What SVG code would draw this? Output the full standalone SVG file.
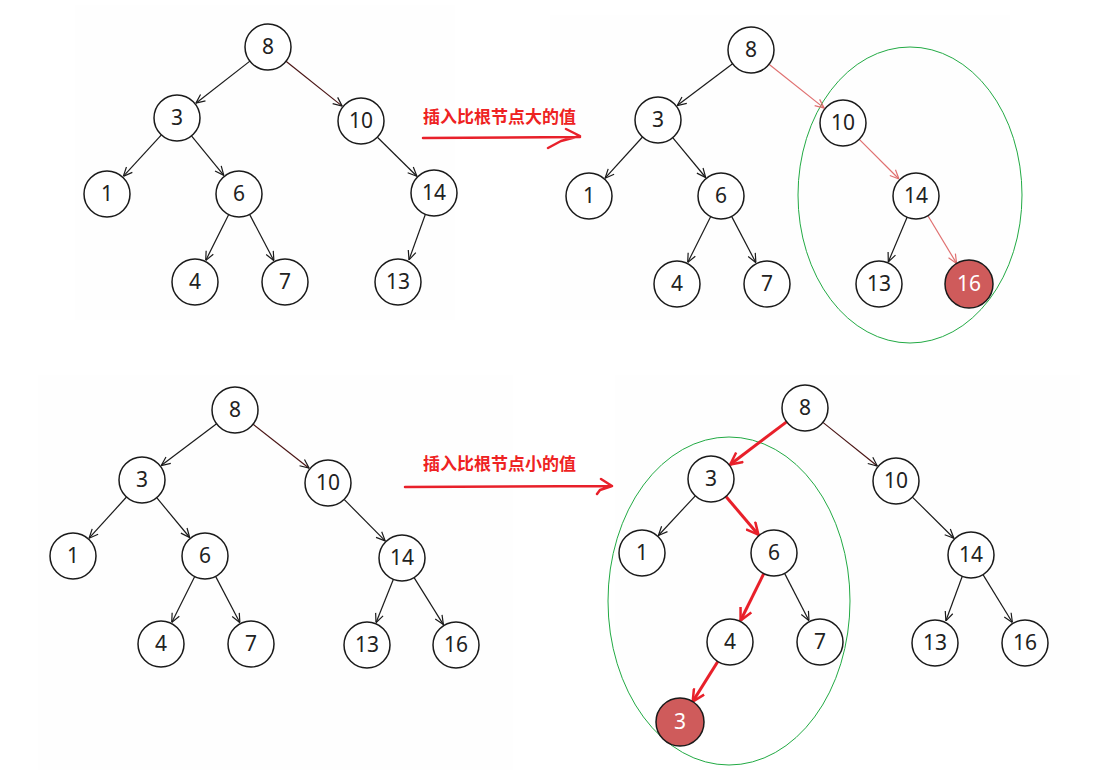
<svg xmlns="http://www.w3.org/2000/svg" width="1099" height="782" viewBox="0 0 1099 782">
<defs>
<style>
.n circle{fill:#fff;stroke:#1a1a1a;stroke-width:1.5}
.n text{font-family:"Noto Sans","DejaVu Sans",sans-serif;font-size:21px;fill:#222;text-anchor:middle}
.n.hl circle{fill:#cf5b5b}
.n.hl text{fill:#fff}
.e{stroke:#1a1a1a;stroke-width:1.2;fill:none;marker-end:url(#ab)}
.e.s{stroke:#e07070;marker-end:url(#as)}
.e.d{stroke:#4a1515}
.e.r{stroke:#e8202a;stroke-width:3;marker-end:url(#ar)}
.lab{font-family:"Noto Sans CJK SC",sans-serif;font-size:17px;font-weight:bold;fill:#ee2222}
.arr{stroke:#e8202a;stroke-width:2.5;fill:none;stroke-linecap:round;stroke-linejoin:round}
.ell{fill:none;stroke:#22aa44;stroke-width:1}
.bg{fill:#fefefe}
</style>
<marker id="ab" viewBox="0 0 10 10" refX="10" refY="5" markerWidth="10" markerHeight="10" markerUnits="userSpaceOnUse" orient="auto"><path d="M1,1 L10,5 L1,9" fill="none" stroke="#1a1a1a" stroke-width="1.2"/></marker>
<marker id="as" viewBox="0 0 10 10" refX="10" refY="5" markerWidth="10" markerHeight="10" markerUnits="userSpaceOnUse" orient="auto"><path d="M1,1 L10,5 L1,9" fill="none" stroke="#e07070" stroke-width="1.2"/></marker>
<marker id="ar" viewBox="0 0 14 14" refX="13" refY="7" markerWidth="14" markerHeight="14" markerUnits="userSpaceOnUse" orient="auto"><path d="M1,1 L13,7 L1,13" fill="none" stroke="#e8202a" stroke-width="2.5"/></marker>
</defs>
<rect width="1099" height="782" fill="#fff"/>
<rect class="bg" x="75" y="5" width="380" height="315"/>
<rect class="bg" x="550" y="15" width="460" height="305"/>
<rect class="bg" x="38" y="375" width="475" height="395"/>
<rect class="bg" x="615" y="375" width="465" height="305"/>

<g id="ellipses">
<ellipse class="ell" cx="910" cy="195" rx="112" ry="148"/>
<ellipse class="ell" cx="729" cy="601" rx="121" ry="164"/>
</g>

<g id="connectors">
<line class="e" x1="249.9" y1="61.1" x2="195.9" y2="103.2"/>
<line class="e d" x1="286" y1="61.3" x2="342.2" y2="106.1"/>
<line class="e" x1="161.4" y1="134.9" x2="123.3" y2="176.3"/>
<line class="e" x1="191.5" y1="135.8" x2="223.8" y2="175.4"/>
<line class="e" x1="377.4" y1="137.2" x2="416.9" y2="176.2"/>
<line class="e" x1="228.7" y1="214.6" x2="205.7" y2="260.5"/>
<line class="e" x1="249.6" y1="214.4" x2="273.9" y2="260.7"/>
<line class="e" x1="425.4" y1="214.3" x2="409" y2="259.8"/>

<line class="e" x1="732.6" y1="63.8" x2="677.2" y2="105.6"/>
<line class="e s" x1="769" y1="64.3" x2="824.2" y2="108.1"/>
<line class="e" x1="642.5" y1="137" x2="605.1" y2="178.2"/>
<line class="e" x1="672.7" y1="137.7" x2="705.7" y2="177.5"/>
<line class="e s" x1="859.3" y1="139.3" x2="899" y2="179"/>
<line class="e" x1="710.7" y1="216.6" x2="687.7" y2="262.5"/>
<line class="e" x1="731.6" y1="216.4" x2="755.9" y2="262.7"/>
<line class="e" x1="907.1" y1="217.2" x2="888.3" y2="261.9"/>
<line class="e s" x1="927.9" y1="215.7" x2="956.6" y2="263.4"/>

<line class="e" x1="216.6" y1="423.8" x2="161.2" y2="465.6"/>
<line class="e d" x1="253.1" y1="424.2" x2="309.1" y2="468.2"/>
<line class="e" x1="126.5" y1="497" x2="89.1" y2="538.2"/>
<line class="e" x1="156.7" y1="497.7" x2="189.7" y2="537.5"/>
<line class="e" x1="344.1" y1="499.4" x2="385.2" y2="540.9"/>
<line class="e" x1="194.7" y1="576.6" x2="171.7" y2="622.5"/>
<line class="e" x1="215.6" y1="576.4" x2="239.9" y2="622.7"/>
<line class="e" x1="393.4" y1="579.3" x2="376" y2="622.7"/>
<line class="e" x1="414.1" y1="577.6" x2="443.4" y2="624.6"/>

<line class="e r" x1="786.6" y1="421.9" x2="730.2" y2="464.5"/>
<line class="e d" x1="822.9" y1="422.4" x2="877.3" y2="466"/>
<line class="e" x1="695.3" y1="495.8" x2="658.4" y2="535.5"/>
<line class="e r" x1="725.9" y1="496.5" x2="758.4" y2="534.7"/>
<line class="e r" x1="763.8" y1="573.6" x2="740.6" y2="620.5"/>
<line class="e" x1="784.6" y1="573.4" x2="809" y2="620.7"/>
<line class="e" x1="912.4" y1="497.1" x2="953.9" y2="538.2"/>
<line class="e" x1="962.3" y1="576.3" x2="945.9" y2="620.8"/>
<line class="e" x1="983" y1="574.6" x2="1012.4" y2="622.5"/>
<line class="e r" x1="717.8" y1="661.5" x2="692.7" y2="701.6"/>
</g>

<g id="label-arrows">
<text class="lab" x="423" y="123">插入比根节点大的值</text>
<path class="arr" d="M423,138 L580,137 M566,129 L580,136 L561,141 L548,148"/>
<text class="lab" x="423" y="470">插入比根节点小的值</text>
<path class="arr" d="M405,487 L612,486 M601,479 L612,486 L600,490 L597,494"/>
</g>

<g id="t1-8" class="n"><circle cx="268" cy="47" r="23"/><text x="268" y="54">8</text></g>
<g id="t1-3" class="n"><circle cx="177" cy="118" r="23"/><text x="177" y="125">3</text></g>
<g id="t1-10" class="n"><circle cx="361" cy="121" r="23"/><text x="361" y="128">10</text></g>
<g id="t1-1" class="n"><circle cx="107" cy="194" r="23"/><text x="107" y="201">1</text></g>
<g id="t1-6" class="n"><circle cx="239" cy="194" r="23"/><text x="239" y="201">6</text></g>
<g id="t1-14" class="n"><circle cx="434" cy="193" r="23"/><text x="434" y="200">14</text></g>
<g id="t1-4" class="n"><circle cx="195" cy="282" r="23"/><text x="195" y="289">4</text></g>
<g id="t1-7" class="n"><circle cx="285" cy="282" r="23"/><text x="285" y="289">7</text></g>
<g id="t1-13" class="n"><circle cx="398" cy="282" r="23"/><text x="398" y="289">13</text></g>

<g id="t2-8" class="n"><circle cx="751" cy="50" r="23"/><text x="751" y="57">8</text></g>
<g id="t2-3" class="n"><circle cx="658" cy="120" r="23"/><text x="658" y="127">3</text></g>
<g id="t2-10" class="n"><circle cx="843" cy="123" r="23"/><text x="843" y="130">10</text></g>
<g id="t2-1" class="n"><circle cx="589" cy="196" r="23"/><text x="589" y="203">1</text></g>
<g id="t2-6" class="n"><circle cx="721" cy="196" r="23"/><text x="721" y="203">6</text></g>
<g id="t2-14" class="n"><circle cx="916" cy="196" r="23"/><text x="916" y="203">14</text></g>
<g id="t2-4" class="n"><circle cx="677" cy="284" r="23"/><text x="677" y="291">4</text></g>
<g id="t2-7" class="n"><circle cx="767" cy="284" r="23"/><text x="767" y="291">7</text></g>
<g id="t2-13" class="n"><circle cx="879" cy="284" r="23"/><text x="879" y="291">13</text></g>
<g id="t2-16" class="n hl"><circle cx="969" cy="284" r="24"/><text x="969" y="291">16</text></g>

<g id="t3-8" class="n"><circle cx="235" cy="410" r="23"/><text x="235" y="417">8</text></g>
<g id="t3-3" class="n"><circle cx="142" cy="480" r="23"/><text x="142" y="487">3</text></g>
<g id="t3-10" class="n"><circle cx="328" cy="483" r="23"/><text x="328" y="490">10</text></g>
<g id="t3-1" class="n"><circle cx="73" cy="556" r="23"/><text x="73" y="563">1</text></g>
<g id="t3-6" class="n"><circle cx="205" cy="556" r="23"/><text x="205" y="563">6</text></g>
<g id="t3-14" class="n"><circle cx="402" cy="558" r="23"/><text x="402" y="565">14</text></g>
<g id="t3-4" class="n"><circle cx="161" cy="644" r="23"/><text x="161" y="651">4</text></g>
<g id="t3-7" class="n"><circle cx="251" cy="644" r="23"/><text x="251" y="651">7</text></g>
<g id="t3-13" class="n"><circle cx="367" cy="645" r="23"/><text x="367" y="652">13</text></g>
<g id="t3-16" class="n"><circle cx="456" cy="645" r="23"/><text x="456" y="652">16</text></g>

<g id="t4-8" class="n"><circle cx="805" cy="408" r="23"/><text x="805" y="415">8</text></g>
<g id="t4-3" class="n"><circle cx="711" cy="479" r="23"/><text x="711" y="486">3</text></g>
<g id="t4-10" class="n"><circle cx="896" cy="481" r="23"/><text x="896" y="488">10</text></g>
<g id="t4-1" class="n"><circle cx="642" cy="553" r="23"/><text x="642" y="560">1</text></g>
<g id="t4-6" class="n"><circle cx="774" cy="553" r="23"/><text x="774" y="560">6</text></g>
<g id="t4-14" class="n"><circle cx="971" cy="555" r="23"/><text x="971" y="562">14</text></g>
<g id="t4-4" class="n"><circle cx="730" cy="642" r="23"/><text x="730" y="649">4</text></g>
<g id="t4-7" class="n"><circle cx="820" cy="642" r="23"/><text x="820" y="649">7</text></g>
<g id="t4-13" class="n"><circle cx="935" cy="643" r="23"/><text x="935" y="650">13</text></g>
<g id="t4-16" class="n"><circle cx="1025" cy="643" r="23"/><text x="1025" y="650">16</text></g>
<g id="t4-3new" class="n hl"><circle cx="680" cy="722" r="24"/><text x="680" y="729">3</text></g>
</svg>
